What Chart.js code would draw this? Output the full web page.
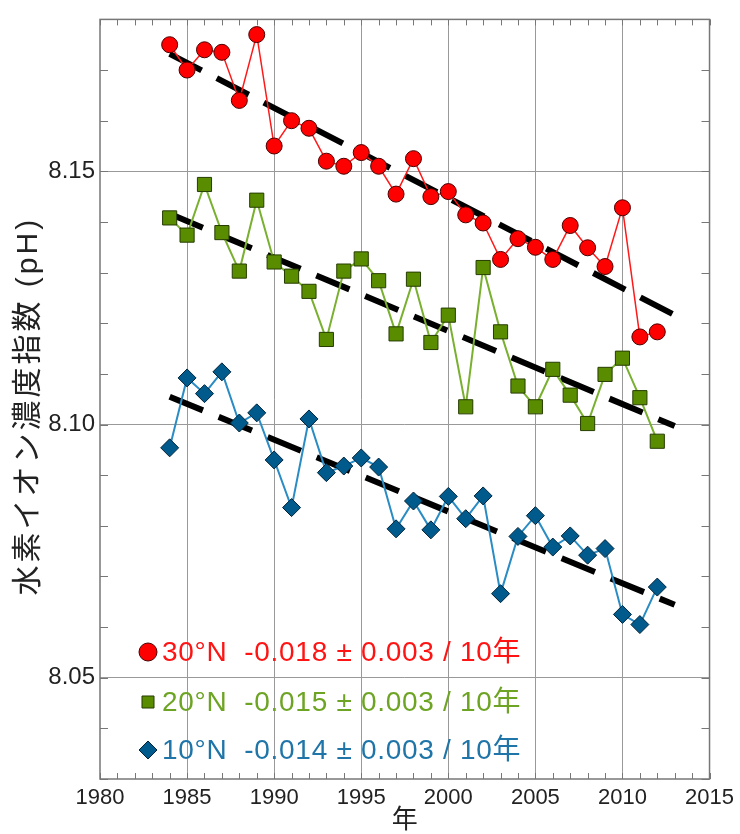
<!DOCTYPE html>
<html><head><meta charset="utf-8">
<script src="https://cdn.jsdelivr.net/npm/chart.js@4.4.1/dist/chart.umd.min.js"></script>
<style>html,body{margin:0;padding:0;background:#fff}#wrap{width:740px;height:834px}</style>
</head><body><div id="wrap"><canvas id="c" width="740" height="834"></canvas></div>
<script>
const years = [1984,1985,1986,1987,1988,1989,1990,1991,1992,1993,1994,1995,1996,1997,1998,1999,2000,2001,2002,2003,2004,2005,2006,2007,2008,2009,2010,2011,2012];
const ph30N = [8.175,8.170,8.174,8.1735,8.164,8.177,8.155,8.160,8.1585,8.152,8.151,8.1537,8.151,8.1455,8.1525,8.145,8.146,8.1414,8.1398,8.1326,8.1367,8.135,8.1326,8.1393,8.1349,8.1312,8.1428,8.1173,8.1183];
const ph20N = [8.1408,8.1374,8.1474,8.1379,8.1303,8.1443,8.1321,8.1293,8.1263,8.1168,8.1303,8.1327,8.1284,8.1179,8.1287,8.1162,8.1216,8.1035,8.131,8.1183,8.1076,8.1035,8.1109,8.1058,8.1002,8.1099,8.1131,8.1053,8.0967];
const ph10N = [8.0954,8.1092,8.1061,8.1104,8.1003,8.1023,8.093,8.0836,8.1011,8.0905,8.0918,8.0934,8.0916,8.0794,8.0849,8.0792,8.0858,8.0814,8.0859,8.0666,8.0779,8.082,8.0758,8.078,8.0742,8.0755,8.0625,8.0605,8.0679];
const trendYears = [1984, 2013];
const trend30N = [8.1732, 8.1216];
const trend20N = [8.1416, 8.0997];
const trend10N = [8.1055, 8.0644];
const xTicks = [1980,1985,1990,1995,2000,2005,2010,2015];
const yTicks = [8.05, 8.10, 8.15];
const legendLabels = ['30°N  -0.018 ± 0.003 / 10年','20°N  -0.015 ± 0.003 / 10年','10°N  -0.014 ± 0.003 / 10年'];
const yTitle = '水素イオン濃度指数 (pH)';
const xTitle = '年';

const FONT = '"Liberation Sans", Arial, "Noto Sans CJK JP", sans-serif';
const pts = (xs, ys) => xs.map((v, i) => ({x: v, y: ys[i]}));

const styles = [
  {fill:'#ff0000', border:'#4a0000', line:'#ff1a1a', lw:1.5, shape:'circle', r:8, text:'#ff1414'},
  {fill:'#5a8c00', border:'#263d00', line:'#7ab030', lw:2, shape:'rect', r:10, text:'#6ea424'},
  {fill:'#005a8c', border:'#00243a', line:'#2a8cc4', lw:2, shape:'rectRot', r:9, text:'#1f75a8'}
];
const series = [ph30N, ph20N, ph10N];
const trends = [trend30N, trend20N, trend10N];

const datasets = [];
series.forEach((s, i) => {
  const st = styles[i];
  datasets.push({
    data: pts(years, s), borderColor: st.line, borderWidth: st.lw,
    pointStyle: st.shape, pointRadius: st.r, pointHoverRadius: st.r,
    pointBackgroundColor: st.fill, pointBorderColor: st.border, pointBorderWidth: 1,
    tension: 0, order: 1
  });
});
trends.forEach(t => {
  datasets.push({
    data: pts(trendYears, t), borderColor: '#000', borderWidth: 6,
    borderDash: [36, 17], borderCapStyle: 'butt', pointRadius: 0, tension: 0, order: 2
  });
});

const decor = {
  id: 'decor',
  beforeDatasetsDraw(chart) {
    const {ctx, chartArea: a, scales: {x, y}} = chart;
    ctx.save();
    ctx.strokeStyle = '#777'; ctx.lineWidth = 1;
    ctx.beginPath();
    for (let yr = xTicks[0]; yr <= xTicks[xTicks.length - 1]; yr++) {
      const px = Math.round(x.getPixelForValue(yr)) + 0.5;
      ctx.moveTo(px, a.bottom); ctx.lineTo(px, a.bottom - 6);
      ctx.moveTo(px, a.top); ctx.lineTo(px, a.top + 6);
    }
    for (let k = 803; k <= 818; k++) {
      const py = Math.round(y.getPixelForValue(k / 100)) + 0.5;
      ctx.moveTo(a.left, py); ctx.lineTo(a.left + 8, py);
      ctx.moveTo(a.right, py); ctx.lineTo(a.right - 8, py);
    }
    ctx.stroke();
    ctx.restore();
  },
  afterDraw(chart) {
    const {ctx, chartArea: a} = chart;
    ctx.save();
    ctx.strokeStyle = '#777'; ctx.lineWidth = 1.5;
    ctx.strokeRect(a.left, a.top, a.right - a.left, a.bottom - a.top);
    // legend
    const rowsY = [652, 702, 750];
    legendLabels.forEach((lab, i) => {
      const st = styles[i];
      ctx.fillStyle = st.fill; ctx.strokeStyle = st.border; ctx.lineWidth = 1;
      const r = i === 1 ? 8.5 : 9;
      Chart.helpers.drawPoint(ctx, {pointStyle: st.shape, radius: r, borderWidth: 1}, 148, rowsY[i]);
      ctx.fillStyle = st.text;
      ctx.font = '28px ' + FONT;
      try { ctx.letterSpacing = '0.7px'; } catch (e) {}
      ctx.textAlign = 'left'; ctx.textBaseline = 'middle';
      ctx.fillText(lab, 162, rowsY[i] + 1);
    });
    // y title
    ctx.save();
    try { ctx.letterSpacing = '3px'; } catch (e) {}
    ctx.translate(29, (a.top + a.bottom) / 2 + 7);
    ctx.rotate(-Math.PI / 2);
    ctx.fillStyle = '#222';
    ctx.font = '30px ' + FONT;
    ctx.textAlign = 'center'; ctx.textBaseline = 'middle';
    ctx.fillText(yTitle, 0, 0);
    ctx.restore();
    ctx.restore();
  }
};

new Chart(document.getElementById('c'), {
  type: 'line',
  data: {datasets},
  options: {
    responsive: false, animation: false, devicePixelRatio: 1,
    layout: {padding: {top: 15, right: 29, left: 0, bottom: 0}},
    plugins: {legend: {display: false}, tooltip: {enabled: false}},
    scales: {
      x: {
        type: 'linear', min: 1980, max: 2015,
        afterFit(s) { s.height = 55; },
        afterBuildTicks(s) { s.ticks = xTicks.map(v => ({value: v})); },
        ticks: {font: {size: 22, family: FONT}, color: '#222', padding: 6, maxRotation: 0,
          callback: v => String(v)},
        grid: {color: ctx => (ctx.tick && (ctx.tick.value === 1980 || ctx.tick.value === 2015)) ? 'rgba(0,0,0,0)' : '#999', lineWidth: 1, drawTicks: false},
        border: {display: false},
        title: {display: true, text: xTitle, font: {size: 26, family: FONT, lineHeight: 1}, color: '#222', padding: 0}
      },
      y: {
        type: 'linear', min: 8.03, max: 8.18,
        afterFit(s) { s.width = 100; },
        afterBuildTicks(s) { s.ticks = yTicks.map(v => ({value: v})); },
        ticks: {font: {size: 24, family: FONT}, color: '#222', padding: 5,
          callback: v => Number(v).toFixed(2)},
        grid: {color: '#999', lineWidth: 1, drawTicks: false},
        border: {display: false}
      }
    }
  },
  plugins: [decor]
});
</script></body></html>
